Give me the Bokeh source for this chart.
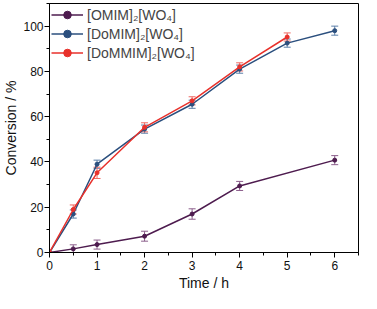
from bokeh.plotting import figure
from bokeh.models import FixedTicker, Whisker, ColumnDataSource, TeeHead, Range1d
from bokeh.embed import file_html
from bokeh.resources import INLINE

time_omim = [0, 0.5, 1, 2, 3, 4, 6]
conv_omim = [0, 1.6, 3.5, 7.2, 17.0, 29.4, 40.8]
err_omim = [0, 1.8, 2.0, 2.2, 2.3, 2.0, 2.0]

time_domim = [0, 0.5, 1, 2, 3, 4, 5, 6]
conv_domim = [0, 17.0, 39.0, 54.5, 65.5, 81.0, 92.5, 98.0]
err_domim = [0, 1.8, 1.8, 1.8, 1.8, 1.8, 1.8, 2.0]

time_dommim = [0, 0.5, 1, 2, 3, 4, 5]
conv_dommim = [0, 19.0, 35.2, 55.3, 67.0, 82.0, 95.2]
err_dommim = [0, 2.0, 2.5, 2.0, 1.8, 1.8, 1.8]

labels = ["[OMIM]\u2082[WO\u2084]", "[DoMIM]\u2082[WO\u2084]", "[DoMMIM]\u2082[WO\u2084]"]
colors = ["#4e1c4f", "#2b4f7e", "#e8312b"]
err_colors = ["#8c5f8c", "#5b7fa8", "#ee6a63"]

font = "Liberation Sans"

p = figure(width=361, height=293, output_backend="svg", toolbar_location=None,
           x_range=Range1d(0, 6.5), y_range=Range1d(0, 110),
           min_border_left=20, min_border_right=3, min_border_top=3, min_border_bottom=20)

series = [(time_omim, conv_omim, err_omim), (time_domim, conv_domim, err_domim),
          (time_dommim, conv_dommim, err_dommim)]

for (t, c, e), lab, col, ecol in zip(series, labels, colors, err_colors):
    src = ColumnDataSource(dict(x=t, y=c, up=[a + b for a, b in zip(c, e)],
                                lo=[a - b for a, b in zip(c, e)]))
    w = Whisker(source=src, base="x", upper="up", lower="lo", line_color=ecol, line_width=1,
                upper_head=TeeHead(size=7, line_color=ecol, line_width=1),
                lower_head=TeeHead(size=7, line_color=ecol, line_width=1))
    p.add_layout(w)
    p.line("x", "y", source=src, color=col, line_width=1.5, legend_label=lab)
    p.scatter("x", "y", source=src, color=col, size=4, legend_label=lab)

p.xgrid.visible = False
p.ygrid.visible = False
p.outline_line_color = "black"
p.outline_line_width = 1

p.xaxis.ticker = FixedTicker(ticks=[0, 1, 2, 3, 4, 5, 6],
                             minor_ticks=[0.5, 1.5, 2.5, 3.5, 4.5, 5.5, 6.5])
p.yaxis.ticker = FixedTicker(ticks=[0, 20, 40, 60, 80, 100],
                             minor_ticks=[10, 30, 50, 70, 90, 110])

for ax in (p.xaxis[0], p.yaxis[0]):
    ax.axis_line_color = "black"
    ax.axis_line_width = 1
    ax.major_tick_in = 0
    ax.major_tick_out = 5
    ax.minor_tick_in = 0
    ax.minor_tick_out = 3
    ax.major_tick_line_color = "black"
    ax.minor_tick_line_color = "black"
    ax.major_label_text_font = font
    ax.major_label_text_font_size = "12px"
    ax.major_label_text_color = "#111111"
    ax.axis_label_text_font = font
    ax.axis_label_text_font_size = "14px"
    ax.axis_label_text_font_style = "normal"
    ax.axis_label_text_color = "#111111"

p.xaxis.axis_label = "Time / h"
p.yaxis.axis_label = "Conversion / %"
p.xaxis.axis_label_standoff = 2
p.yaxis.axis_label_standoff = 1
p.xaxis.major_label_standoff = 3
p.yaxis.major_label_standoff = 1

p.legend.location = "top_left"
p.legend.border_line_color = None
p.legend.background_fill_alpha = 0
p.legend.label_text_font = font
p.legend.label_text_font_size = "14px"
p.legend.glyph_width = 32
p.legend.glyph_height = 19
p.legend.label_height = 19
p.legend.spacing = 0
p.legend.padding = 0
p.legend.margin = 2
p.legend.label_standoff = 4

open("out.html", "w").write(file_html(p, INLINE))
